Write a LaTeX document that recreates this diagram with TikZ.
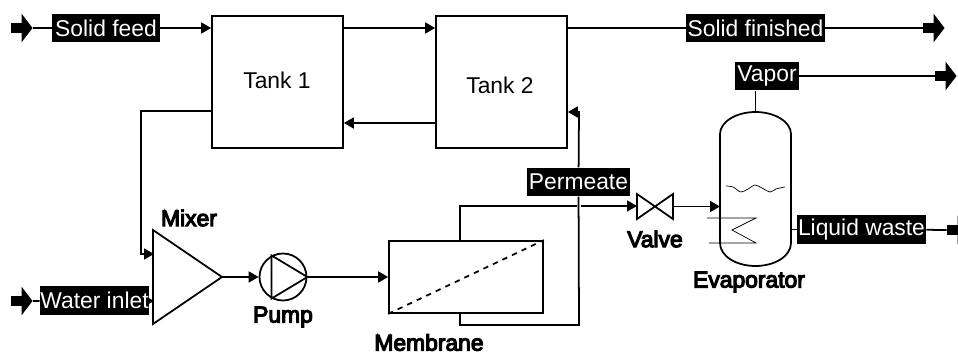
\documentclass[tikz,border=0pt]{standalone}
\usepackage{fontspec}
\setmainfont{Liberation Sans}
\newfontfamily\heavyfont{Liberation Sans}[AutoFakeBold=5]
\usepackage{tikz}
\usetikzlibrary{arrows.meta,shapes.arrows}

\begin{document}
\begin{tikzpicture}[x=0.02cm,y=-0.02cm,
	flow_line/.style={line width=1pt},
	flow_tip/.style={line width=1pt,-{Triangle[length=0.2cm,width=0.22cm]}},
	tag_node/.style={fill=black,text=white,inner sep=0pt,minimum height=0.57cm,font=\fontsize{13}{15}\selectfont},
	text_node/.style={inner sep=0pt,font=\fontsize{13}{15}\selectfont},
	title_node/.style={inner sep=0pt,font=\fontsize{13}{15}\selectfont\heavyfont\bfseries},
	tank_node/.style={draw,line width=1pt,inner sep=0pt,minimum width=2.62cm,minimum height=2.64cm},
	frame_node/.style={inner sep=0pt,outer sep=0pt},
	flow_node/.style={single arrow,fill=black,inner xsep=0pt,inner ysep=0.09cm,minimum height=0.43cm,single arrow head extend=0.19cm,single arrow tip angle=105,anchor=tip}]

	\useasboundingbox (0,0) rectangle (958,354);

	\node[tank_node] (tank1) at (277.5,82) {};
	\node[tank_node] (tank2) at (501.5,82) {};
	\node[text_node] (tank1_text) at (277,80) {Tank 1};
	\node[text_node] (tank2_text) at (500,85) {Tank 2};

	\node[frame_node, minimum width=1.38cm, minimum height=1.88cm] (mixer) at (187.5,277) {};
	\node[draw, circle, line width=1pt, inner sep=0pt, minimum size=0.94cm] (pump) at (283,277) {};
	\node[draw, line width=1pt, inner sep=0pt, minimum width=3.08cm, minimum height=1.44cm] (membrane) at (466,277) {};
	\node[frame_node, minimum width=0.72cm, minimum height=0.5cm] (valve) at (655,206.5) {};
	\node[frame_node, minimum width=1.42cm, minimum height=3.08cm] (evap) at (755.5,189) {};

	\draw[line width=1pt] (mixer.north west) -- (mixer.east) -- (mixer.south west) -- cycle;
	\draw[line width=1pt] (pump.118) -- (pump.east) -- (pump.242) -- cycle;
	\draw[line width=1pt, dashed] (membrane.south west) -- (membrane.north east);
	\draw[line width=1pt] (valve.north west) -- (valve.south east) -- (valve.north east) -- (valve.south west) -- cycle;
	\draw[line width=1pt] (evap.west |- 0,134) .. controls (720,122) and (736,112) .. (evap.north)
		.. controls (775,112) and (791,122) .. (evap.east |- 0,134) -- (evap.east |- 0,243)
		.. controls (791,256) and (775,266) .. (evap.south)
		.. controls (736,266) and (720,256) .. (evap.west |- 0,243) -- cycle;
	\draw[line width=0.4pt] (707,218) -- (756,218) -- (732,230) -- (756,243) -- (709,243);
	\draw[line width=0.4pt] plot[smooth] coordinates {(726,186) (733,187) (741,192) (748,189) (755,185) (762,188) (770,192) (776,189) (785,187)};

	% water arrow lies under its tag
	\coordinate (water_start) at (130,301);
	\coordinate (water_end) at (154,301);
	\draw[flow_tip] (water_start) -- (water_end);

	\node[tag_node, minimum width=2.16cm] (feed_tag) at (106,28) {Solid feed};
	\node[tag_node, minimum width=2.18cm] (water_tag) at (94.5,300.5) {Water inlet};
	\node[tag_node, minimum width=2.78cm] (finished_tag) at (755.5,28) {Solid finished};
	\node[tag_node, minimum width=1.28cm] (vapor_tag) at (767,76) {Vapor};
	\node[tag_node, minimum width=2.06cm] (permeate_tag) at (578.5,182) {Permeate};
	\node[tag_node, minimum width=2.58cm] (waste_tag) at (861.5,229.5) {Liquid waste};

	\node[flow_node] (feed_src) at (33,28) {};
	\node[flow_node] (water_src) at (33,301) {};
	\node[flow_node] (finished_dst) at (945,28) {};
	\node[flow_node] (vapor_dst) at (957,76) {};
	\node[flow_node] (waste_dst) at (969,230) {};

	\node[title_node] (mixer_text) at (189,218) {Mixer};
	\node[title_node] (pump_text) at (283,317) {Pump};
	\node[title_node] (membrane_text) at (429,342.5) {Membrane};
	\node[title_node] (valve_text) at (655,239) {Valve};
	\node[title_node] (evap_text) at (749,282) {Evaporator};

	\coordinate (tank1_out) at (212,111);
	\coordinate (return_bend) at (141,111);
	\coordinate (return_end) at (154,254);
	\coordinate (top_stub) at (460,241);
	\coordinate (top_bend) at (460,206);
	\coordinate (low_stub) at (460,313);
	\coordinate (low_bend) at (460,325);
	\coordinate (low_corner) at (579,325);
	\coordinate (permeate_up) at (579,112);
	\coordinate (tank2_back) at (436,123);

	\draw[flow_line] (feed_src.tip) -- (feed_tag);
	\draw[flow_tip] (feed_tag) -- (tank1.west |- feed_tag);
	\draw[flow_tip] (tank1.east |- feed_tag) -- (tank2.west |- feed_tag);
	\draw[flow_tip] (tank2_back) -- (tank1.east |- tank2_back);
	\draw[flow_line] (tank2.east |- finished_tag) -- (finished_tag);
	\draw[flow_line] (finished_tag) -- (finished_dst);
	\draw[flow_tip] (tank1_out) -- (return_bend) |- (return_end);

	\draw[flow_line] (water_src.tip) -- (water_tag);
	\draw[flow_tip] (mixer.east) -- (pump.west);
	\draw[flow_tip] (pump.east) -- (membrane.west);

	\draw[flow_tip] (top_stub) -- (top_bend) -- (valve.west |- top_bend);
	\draw[white, line width=2.4pt] (579,196) -- (579,216);
	\draw[flow_line] (low_stub) -- (low_bend) -- (low_corner) -- (permeate_tag);
	\draw[flow_tip] (permeate_tag) -- (permeate_up) -- (tank2.east |- permeate_up);

	\draw[flow_tip] (valve.east) -- (evap.west |- valve);
	\draw[flow_line] (evap.north) -- (vapor_tag.south -| evap.north);
	\draw[flow_line] (vapor_tag) -- (vapor_dst);
	\draw[flow_line] (evap.east |- waste_tag) -- (waste_tag);
	\draw[flow_line] (waste_tag) -- (waste_dst);
\end{tikzpicture}
\end{document}
